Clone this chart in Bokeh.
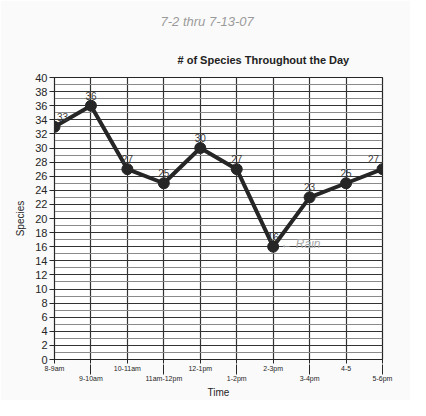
from bokeh.plotting import figure
from bokeh.models import Range1d, FixedTicker, SingleIntervalTicker, LinearAxis, Title, ColumnDataSource
from bokeh.core.properties import value
from bokeh.embed import file_html
from bokeh.resources import INLINE

times = ["8-9am", "9-10am", "10-11am", "11am-12pm", "12-1pm", "1-2pm",
         "2-3pm", "3-4pm", "4-5", "5-6pm"]
species = [33, 36, 27, 25, 30, 27, 16, 23, 25, 27]
y_interval = 2
y_max = 40
title_text = "# of Species Throughout the Day"
date_note = "7-2 thru 7-13-07"
rain_note = "\u2190 Rain"

FONT = "Liberation Sans"
INK = "#262626"

n = len(times)
xs = list(range(n))
odd = [i for i in xs if i % 2 == 1]

p = figure(width=410, height=400, output_backend="svg", toolbar_location=None,
           x_range=Range1d(0, n - 1), y_range=Range1d(0, y_max),
           min_border_left=54, min_border_right=28, min_border_top=76,
           min_border_bottom=36, background_fill_color="white",
           border_fill_color="#fafafa", outline_line_color=INK,
           outline_line_width=1.2)

# handwritten date (outermost) and chart title (closer to frame)
p.title.text = date_note
p.title.text_font = FONT
p.title.text_font_size = "13px"
p.title.text_font_style = "italic"
p.title.text_color = "#9a9a9a"
p.title.align = "left"
p.title.offset = 106
p.title.standoff = 22
p.add_layout(Title(text=title_text, text_font=FONT, text_font_size="11px",
                   text_font_style="bold", text_color="#222222",
                   align="left", offset=123, standoff=24), "above")

# y axis
p.yaxis.ticker = SingleIntervalTicker(interval=y_interval, num_minor_ticks=2)
p.yaxis.axis_label = "Species"
p.yaxis.axis_label_text_font = FONT
p.yaxis.axis_label_text_font_size = "10px"
p.yaxis.axis_label_text_font_style = "normal"
p.yaxis.axis_label_text_color = INK
p.yaxis.axis_label_standoff = 6
p.yaxis.major_label_text_font = FONT
p.yaxis.major_label_text_font_size = "11px"
p.yaxis.major_label_text_color = INK
p.yaxis.major_label_standoff = 2
p.yaxis.major_tick_out = 5
p.yaxis.major_tick_in = 0
p.yaxis.minor_tick_line_color = None
p.yaxis.axis_line_color = INK
p.yaxis.major_tick_line_color = INK

# x axis: even labels close, odd labels staggered below
p.xaxis.ticker = FixedTicker(ticks=xs)
p.xaxis.major_label_overrides = {i: (times[i] if i % 2 == 0 else "") for i in xs}
p.xaxis.major_label_text_font = FONT
p.xaxis.major_label_text_font_size = "7px"
p.xaxis.major_label_text_color = INK
p.xaxis.major_label_standoff = 1
p.xaxis.major_tick_out = 4
p.xaxis.major_tick_in = 0
p.xaxis.minor_tick_line_color = None
p.xaxis.axis_line_color = INK
p.xaxis.major_tick_line_color = INK

ax2 = LinearAxis(ticker=FixedTicker(ticks=odd),
                 major_label_overrides={i: times[i] for i in odd},
                 major_label_text_font=FONT, major_label_text_font_size="7px",
                 major_label_text_color=INK, major_label_standoff=0,
                 major_tick_out=0, major_tick_in=10, axis_line_color=None,
                 major_tick_line_color=INK, minor_tick_line_color=None,
                 axis_label="Time", axis_label_text_font=FONT,
                 axis_label_text_font_size="10px",
                 axis_label_text_font_style="normal",
                 axis_label_text_color=INK, axis_label_standoff=2)
p.add_layout(ax2, "below")

# grid
p.xgrid.ticker = FixedTicker(ticks=xs)
p.xgrid.grid_line_color = "#333333"
p.xgrid.grid_line_width = 1.2
p.ygrid.grid_line_color = "#333333"
p.ygrid.grid_line_width = 1.2
p.ygrid.minor_grid_line_color = "#8a8a8a"
p.ygrid.minor_grid_line_width = 1

src = ColumnDataSource(dict(x=xs, y=species, label=[str(v) for v in species],
                            dx=[8 if i == 0 else (-9 if i == n - 1 else 0) for i in xs]))
p.line("x", "y", source=src, line_color=INK, line_width=4)
p.scatter("x", "y", source=src, size=11, fill_color=INK, line_color=INK)
p.text("x", "y", text="label", source=src, x_offset="dx", y_offset=-6,
       text_align="center", text_baseline="bottom",
       text_font=value(FONT), text_font_size="10px",
       text_color="#3a3a3a")

p.text(x=[6.2], y=[16.4], text=[rain_note], text_align="left",
       text_baseline="middle", text_font=value(FONT), text_font_size="12px",
       text_font_style="italic", text_color="#a8a8a8")

open("out.html", "w").write(file_html(p, INLINE))
